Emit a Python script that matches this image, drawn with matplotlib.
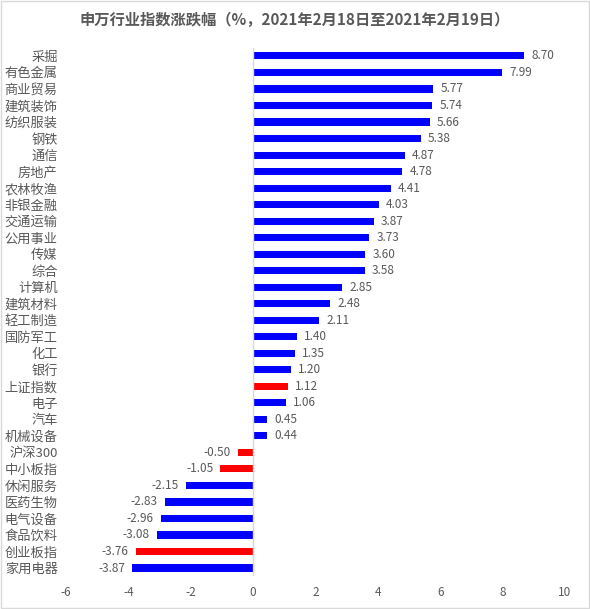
import matplotlib
matplotlib.use("Agg")
import matplotlib.pyplot as plt
from matplotlib.patches import Rectangle

plt.rcParams['font.family'] = ['Noto Sans CJK SC', 'DejaVu Sans']

categories = ["采掘", "有色金属", "商业贸易", "建筑装饰", "纺织服装", "钢铁", "通信", "房地产",
              "农林牧渔", "非银金融", "交通运输", "公用事业", "传媒", "综合", "计算机", "建筑材料",
              "轻工制造", "国防军工", "化工", "银行", "上证指数", "电子", "汽车", "机械设备",
              "沪深300", "中小板指", "休闲服务", "医药生物", "电气设备", "食品饮料", "创业板指", "家用电器"]
values = [8.70, 7.99, 5.77, 5.74, 5.66, 5.38, 4.87, 4.78, 4.41, 4.03, 3.87, 3.73, 3.60, 3.58,
          2.85, 2.48, 2.11, 1.40, 1.35, 1.20, 1.12, 1.06, 0.45, 0.44, -0.50, -1.05, -2.15,
          -2.83, -2.96, -3.08, -3.76, -3.87]
index_names = ["上证指数", "沪深300", "中小板指", "创业板指"]
title = "申万行业指数涨跌幅（%，2021年2月18日至2021年2月19日）"
xticks = [-6, -4, -2, 0, 2, 4, 6, 8, 10]

gray = "#595959"
colors = ["#FF0000" if c in index_names else "#0000FF" for c in categories]

fig = plt.figure(figsize=(5.9, 6.09), dpi=100)
ax = fig.add_axes([0.1119, 0.0537, 0.8457, 0.868])
n = len(categories)
ypos = list(range(n))
ax.barh(ypos, values, height=0.43, color=colors)
ax.set_ylim(n - 0.5, -0.5)
ax.set_xlim(-6, 10)
ax.set_xticks(xticks)
ax.set_xticklabels([str(t) for t in xticks], color=gray, fontsize=8.5)
ax.set_yticks(ypos)
ax.set_yticklabels(categories, fontsize=9.5, color=gray)
ax.tick_params(axis='both', length=0)
ax.tick_params(axis='y', pad=6)
ax.tick_params(axis='x', pad=7)
for s in ax.spines.values():
    s.set_visible(False)
ax.axvline(0, color="#D9D9D9", lw=1)

for y, v in zip(ypos, values):
    if v >= 0:
        ax.text(v + 0.23, y, f"{v:.2f}", va='center', ha='left', fontsize=8.5, color=gray)
    else:
        ax.text(v - 0.23, y, f"{v:.2f}", va='center', ha='right', fontsize=8.5, color=gray)

fig.text(0.5, 0.968, title, ha='center', va='center', fontsize=11, fontweight='bold', color=gray)
fig.patches.append(Rectangle((0.002, 0.002), 0.996, 0.996, transform=fig.transFigure,
                             fill=False, edgecolor="#D9D9D9", lw=1))
fig.savefig("out.png", dpi=100)
